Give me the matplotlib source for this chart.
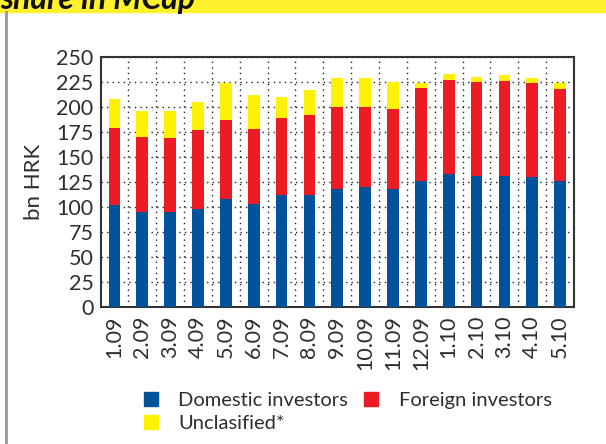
import matplotlib.pyplot as plt
import numpy as np
from matplotlib.patches import Rectangle, Patch

months = ['1.09', '2.09', '3.09', '4.09', '5.09', '6.09', '7.09', '8.09', '9.09',
          '10.09', '11.09', '12.09', '1.10', '2.10', '3.10', '4.10', '5.10']
domestic = [102, 95, 95, 98, 108, 103, 112, 112, 118, 120, 118, 126, 133, 131, 131, 130, 126]
foreign = [77, 75, 74, 79, 79, 75, 77.5, 80, 82, 80, 79.5, 93, 94, 94, 95, 93.5, 92]
unclassified = [29, 26, 27, 28.5, 37, 34, 20.5, 25, 29, 29, 27.5, 5, 6, 5, 5.5, 5.5, 5.5]

blue = '#00539b'
red = '#ed1c24'
yellow = '#fff200'
txt = '#2e2e2e'

plt.rcParams['font.family'] = ['Lato', 'DejaVu Sans']

fig = plt.figure(figsize=(6.06, 4.44), dpi=100)
ax = fig.add_axes([100.5 / 606, 1 - 307 / 444, 473.5 / 606, 250 / 444])

x = np.arange(len(months))
dom = np.array(domestic)
frn = np.array(foreign)
unc = np.array(unclassified)
w = 0.42
ax.bar(x, dom, w, color=blue, zorder=3)
ax.bar(x, frn, w, bottom=dom, color=red, zorder=3)
ax.bar(x, unc, w, bottom=dom + frn, color=yellow, zorder=3)

ax.set_xlim(-0.5, len(months) - 0.5)
ax.set_ylim(0, 250)
ax.set_yticks(np.arange(0, 251, 25))
ax.set_xticks(x)
ax.set_xticklabels(months, rotation=90, fontsize=15.5, color=txt)
ax.tick_params(axis='y', labelsize=15.5, labelcolor=txt, length=0, pad=5)
ax.tick_params(axis='x', length=0, pad=6)
ax.set_xticks(x[:-1] + 0.5, minor=True)
ax.tick_params(axis='x', which='minor', length=0)
ax.grid(axis='y', which='major', linestyle=(0, (1, 3)), color='#222222', linewidth=1, zorder=0)
ax.grid(axis='x', which='minor', linestyle=(0, (1, 3)), color='#222222', linewidth=1, zorder=0)
ax.set_ylabel('bn HRK', fontsize=16, color=txt, labelpad=9)
for s in ax.spines.values():
    s.set_color('#333333')
    s.set_linewidth(1.5)

# yellow header strip with the clipped title
fig.patches.append(Rectangle((0, 1 - 12 / 444), 1, 12 / 444, transform=fig.transFigure,
                             color='#fff22d', zorder=0))
fig.text(0.0, 1 - 9.5 / 444, 'share in MCap', fontsize=23, fontweight='bold',
         fontstyle='italic', color='#111111', va='baseline', ha='left')
fig.lines.append(plt.Line2D([6 / 606, 6 / 606], [0, 1 - 12 / 444], transform=fig.transFigure,
                            color='#999999', linewidth=2))

handles = [Patch(color=blue), Patch(color=yellow), Patch(color=red)]
labels = ['Domestic investors', 'Unclasified*', 'Foreign investors']
fig.legend(handles, labels, ncol=2, frameon=False, fontsize=14.5, labelcolor=txt,
           loc='upper left', bbox_to_anchor=(134 / 606, 1 - 382 / 444),
           handlelength=0.7, handleheight=0.7, handletextpad=1.0,
           columnspacing=0.8, labelspacing=0.3, borderpad=0)

fig.savefig('out.png', dpi=100)
